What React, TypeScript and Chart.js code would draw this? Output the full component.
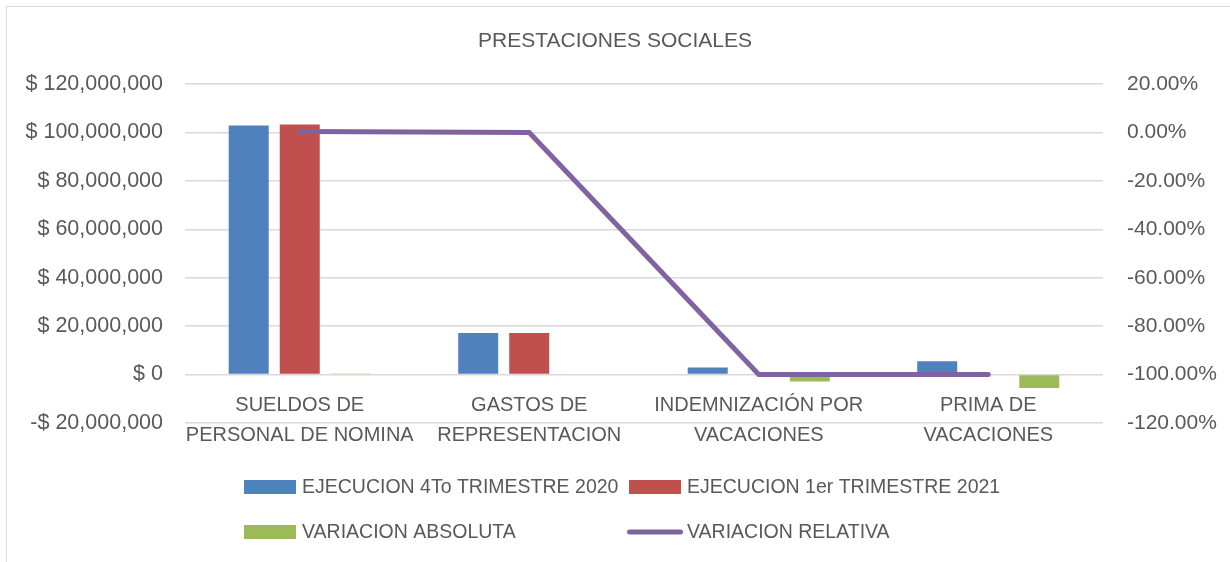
import React, { useEffect, useRef } from "react";
import { Chart, registerables } from "chart.js";

Chart.register(...registerables);

const categories: string[][] = [
  ["SUELDOS DE", "PERSONAL DE NOMINA"],
  ["GASTOS DE", "REPRESENTACION"],
  ["INDEMNIZACIÓN POR", "VACACIONES"],
  ["PRIMA DE", "VACACIONES"],
];
const ejecucion2020: number[] = [102900000, 17200000, 2900000, 5500000];
const ejecucion2021: number[] = [103300000, 17200000, 0, 0];
const variacionAbsoluta: number[] = [400000, 0, -2900000, -5500000];
const variacionRelativa: number[] = [0.0039, 0, -1, -1];

const leftTicks = { min: -20000000, max: 120000000, step: 20000000 };
const rightTicks = { min: -1.2, max: 0.2, step: 0.2 };

const title = "PRESTACIONES SOCIALES";
const seriesLabels = [
  "EJECUCION 4To TRIMESTRE 2020",
  "EJECUCION 1er TRIMESTRE 2021",
  "VARIACION ABSOLUTA",
  "VARIACION RELATIVA",
];

const FONT = "'Liberation Sans', Arial, sans-serif";
const TEXT = "#595959";
const GRID = "#d9d9d9";

const legendPlugin = {
  id: "excelLegend",
  afterDraw(chart: any) {
    const ctx = chart.ctx;
    const ds = chart.data.datasets;
    // grid positions (style only)
    const cols = [244, 629];
    const rows = [487, 532];
    ctx.save();
    ds.forEach((d: any, i: number) => {
      const cx = cols[i % 2];
      const cy = rows[Math.floor(i / 2)];
      if (d.type === "line") {
        ctx.strokeStyle = d.borderColor;
        ctx.lineWidth = 5;
        ctx.lineCap = "round";
        ctx.beginPath();
        ctx.moveTo(cx + 0.5, cy);
        ctx.lineTo(cx + 51.5, cy);
        ctx.stroke();
      } else {
        ctx.fillStyle = d.backgroundColor;
        ctx.fillRect(cx, cy - 7, 52, 14);
      }
      ctx.fillStyle = TEXT;
      ctx.font = `19.5px ${FONT}`;
      ctx.textAlign = "left";
      ctx.textBaseline = "middle";
      ctx.fillText(d.label, cx + 58, cy + 1);
    });
    // outer chart border
    ctx.strokeStyle = GRID;
    ctx.lineWidth = 1;
    ctx.strokeRect(6.5, 6.5, 1240, 580);
    ctx.restore();
  },
};

export default function App() {
  const ref = useRef<HTMLCanvasElement | null>(null);
  useEffect(() => {
    if (!ref.current) return;
    const chart = new Chart(ref.current, {
      type: "bar",
      data: {
        labels: categories,
        datasets: [
          {
            type: "bar",
            label: seriesLabels[0],
            data: ejecucion2020,
            backgroundColor: "#4f81bd",
            yAxisID: "y",
            order: 1,
          },
          {
            type: "bar",
            label: seriesLabels[1],
            data: ejecucion2021,
            backgroundColor: "#c0504d",
            yAxisID: "y",
            order: 1,
          },
          {
            type: "bar",
            label: seriesLabels[2],
            data: variacionAbsoluta,
            backgroundColor: "#9bbb59",
            yAxisID: "y",
            order: 1,
          },
          {
            type: "line",
            label: seriesLabels[3],
            data: variacionRelativa,
            borderColor: "#8064a2",
            backgroundColor: "#8064a2",
            borderWidth: 5,
            borderCapStyle: "round",
            pointRadius: 0,
            tension: 0,
            yAxisID: "y1",
            order: 0,
          } as any,
        ],
      },
      options: {
        responsive: false,
        animation: false,
        layout: { padding: { top: 0, bottom: 139, left: 0, right: 0 } },
        datasets: {
          bar: { categoryPercentage: 0.667, barPercentage: 0.784 },
        },
        plugins: {
          legend: { display: false },
          tooltip: { enabled: false },
          title: {
            display: true,
            text: title,
            color: TEXT,
            font: { family: FONT, size: 21, weight: "normal", lineHeight: 1.2 },
            padding: { top: 28.5, bottom: 30.3 },
          },
        },
        scales: {
          x: {
            position: { y: 0 } as any,
            grid: { display: false, drawTicks: false },
            border: { display: false },
            ticks: {
              autoSkip: false,
              maxRotation: 0,
              minRotation: 0,
              padding: 16,
              color: TEXT,
              font: { family: FONT, size: 20, lineHeight: 1.5 },
            },
          },
          y: {
            position: "left",
            min: leftTicks.min,
            max: leftTicks.max,
            afterFit: (s: any) => {
              s.width = 185;
            },
            grid: { color: GRID, lineWidth: 1.5, drawTicks: false },
            border: { display: false },
            ticks: {
              stepSize: leftTicks.step,
              padding: 22,
              color: TEXT,
              font: { family: FONT, size: 21.5 },
              callback: (v: any) => {
                const n = Math.round(Number(v));
                return (n < 0 ? "-" : "") + "$ " + Math.abs(n).toLocaleString("en-US");
              },
            },
          },
          y1: {
            position: "right",
            min: rightTicks.min,
            max: rightTicks.max,
            afterFit: (s: any) => {
              s.width = 127;
            },
            grid: { display: false, drawTicks: false },
            border: { display: false },
            ticks: {
              stepSize: rightTicks.step,
              padding: 24,
              color: TEXT,
              font: { family: FONT, size: 21 },
              callback: (v: any) => {
                let n = Number(v) * 100;
                if (Math.abs(n) < 1e-6) n = 0;
                return n.toFixed(2) + "%";
              },
            },
          },
        },
      },
      plugins: [legendPlugin],
    });
    return () => chart.destroy();
  }, []);
  return (
    <div style={{ position: "absolute", left: 0, top: 0, width: 1230, height: 562, background: "#fff" }}>
      <canvas ref={ref} width={1230} height={562} />
    </div>
  );
}
